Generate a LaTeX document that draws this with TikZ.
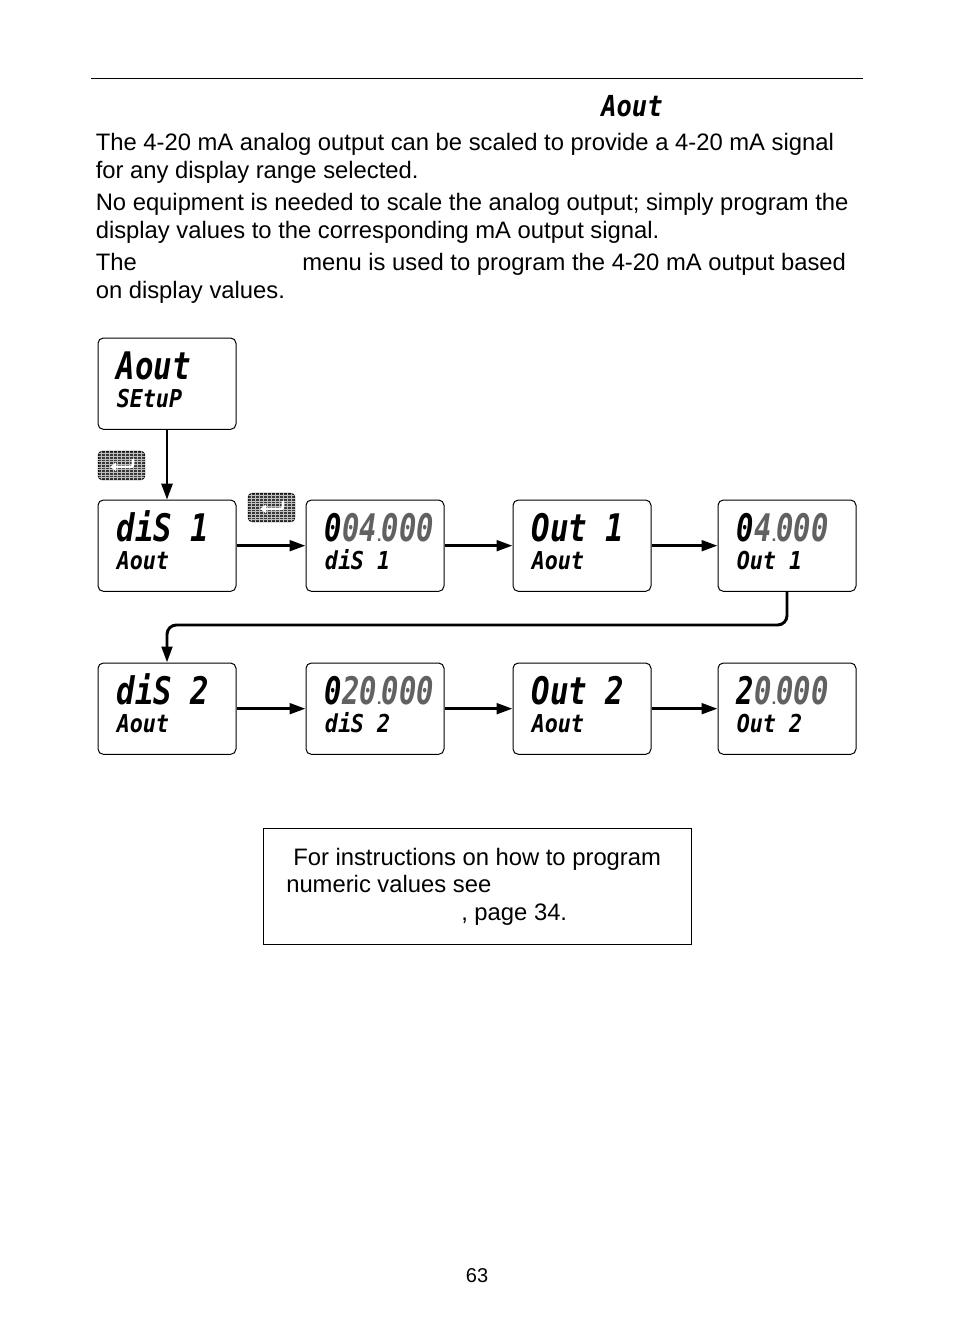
\documentclass[tikz,border=0pt]{standalone}
\usepackage{fontspec}
\usetikzlibrary{arrows.meta}
\setmainfont{Liberation Sans}
\newfontfamily\lcdbig[FakeStretch=0.81]{DejaVu Sans Mono}
\newfontfamily\lcdsmall[FakeStretch=0.88]{DejaVu Sans Mono}
\newfontfamily\lcdval[FakeStretch=0.76]{DejaVu Sans Mono}
\definecolor{lcdgray}{gray}{0.38}
\newcommand{\bodyfs}{\fontsize{17.85pt}{20pt}\selectfont}
\newcommand{\Bg}[1]{\fontsize{28.5pt}{30pt}\lcdbig\bfseries\itshape\selectfont #1}
\newcommand{\Sm}[1]{\fontsize{18.5pt}{20pt}\lcdsmall\bfseries\itshape\selectfont #1}
\newcommand{\Gy}[1]{\textcolor{lcdgray}{#1}}
\newcommand{\Dt}{{\rmfamily\upshape\bfseries\fontsize{13pt}{13pt}\selectfont .}}
\newcommand{\Di}{d\kern0.5pt i\kern-0.5pt S}
\tikzset{
  body/.style={anchor=base west,inner sep=0pt,font=\bodyfs,text=black},
  lcdbox/.style={draw=black,line width=0.75pt,rounded corners=4pt,fill=white,minimum width=103.5pt,minimum height=68.5pt,inner sep=0pt},
  lcdtxt/.style={anchor=base west,inner sep=0pt},
  flow/.style={draw=black,line width=2.2pt,-{Triangle[length=12pt,width=8pt]}},
  thinflow/.style={draw=black,line width=1.6pt,-{Triangle[length=12pt,width=8.5pt]}},
  keybody/.style={fill=black!78,draw=black,line width=0.5pt,rounded corners=3pt,minimum width=35pt,minimum height=21.5pt,inner sep=0pt},
}
\newcommand{\lcd}[5]{%
  \node[lcdbox,anchor=north west] (#1) at (#2,#3) {};
  \node[lcdtxt] (#1t) at ([xshift=14.25pt,yshift=-31.5pt]#1.north west) {\Bg{#4}};
  \node[lcdtxt] (#1b) at ([xshift=14.25pt,yshift=-52.8pt]#1.north west) {\Sm{#5}};
}
\newcommand{\enterkey}[3]{%
  \node[keybody] (#1) at (#2,#3) {};
  \begin{scope}[shift={(#1.center)}]
    \clip[rounded corners=3pt] (-17.5pt,-10.75pt) rectangle (17.5pt,10.75pt);
    \foreach \g in {-15,-12,...,16} \draw[black!25,line width=0.5pt] (\g pt,-11pt) -- (\g pt,11pt);
    \foreach \g in {-9,-7,...,10} \draw[black!25,line width=0.5pt] (-18pt,\g pt) -- (18pt,\g pt);
    \draw[white,line width=2pt,rounded corners=1.5pt,-{Triangle[length=4.5pt,width=6.5pt]}] (8.6pt,5pt) -- (8.6pt,-1pt) -- (-8.5pt,-1pt);
  \end{scope}
}
\begin{document}
\begin{tikzpicture}[x=0.75pt,y=-0.75pt]
\useasboundingbox[fill=white] (0,0) rectangle (954,1336);
\coordinate (ruleL) at (91,78.5); \coordinate (ruleR) at (863,78.5);
\draw[black,line width=0.75pt] (ruleL) -- (ruleR);
\node[lcdtxt] (title) at (601,116.5) {\fontsize{21.7pt}{23pt}\lcdsmall\bfseries\itshape\selectfont Aout};
\node[body] (l1) at (95.5,150.5) {The 4-20 mA analog output can be scaled to provide a 4-20 mA signal};
\node[body] (l2) at (95.5,178.5) {for any display range selected.};
\node[body] (l3) at (95.5,210.5) {No equipment is needed to scale the analog output; simply program the};
\node[body] (l4) at (95.5,238.5) {display values to the corresponding mA output signal.};
\node[body] (l5a) at (95.5,270.5) {The};
\node[body] (l5b) at (302,270.5) {menu is used to program the 4-20 mA output based};
\node[body] (l6) at (95.5,298.5) {on display values.};

\lcd{setup}{97.5}{337.5}{Aout}{SEtuP}
\lcd{dA}{97.5}{499.5}{\Di{} 1}{Aout}
\lcd{dAv}{305.5}{499.5}{\lcdval 0\Gy{04\Dt{}000}}{\Di{} 1}
\lcd{oA}{512.5}{499.5}{Out 1}{Aout}
\lcd{oAv}{717.5}{499.5}{\lcdval 0\Gy{4\Dt{}000}}{Out 1}
\lcd{dB}{97.5}{662.5}{\Di{} 2}{Aout}
\lcd{dBv}{305.5}{662.5}{\lcdval 0\Gy{20\Dt{}000}}{\Di{} 2}
\lcd{oB}{512.5}{662.5}{Out 2}{Aout}
\lcd{oBv}{717.5}{662.5}{\lcdval 2\Gy{0\Dt{}000}}{Out 2}

\enterkey{keyA}{121.5}{465.5}
\enterkey{keyB}{271.5}{507.5}

\coordinate (turn) at (477,625);
\draw[thinflow] (setup.south) -- (dA.north);
\draw[flow] (dA.east) -- (dAv.west);
\draw[flow] (dAv.east) -- (oA.west);
\draw[flow] (oA.east) -- (oAv.west);
\draw[flow,rounded corners=7pt] (oAv.south) -- (oAv.south |- turn) -- (dB.north |- turn) -- (dB.north);
\draw[flow] (dB.east) -- (dBv.west);
\draw[flow] (dBv.east) -- (oB.west);
\draw[flow] (oB.east) -- (oBv.west);

\node[draw=black,line width=0.6pt,minimum width=321pt,minimum height=87pt,inner sep=0pt,anchor=north west] (note) at (262.5,827.5) {};
\node[body] (n1) at (293,865.5) {For instructions on how to program};
\node[body] (n2) at (286,892.5) {numeric values see};
\node[body] (n3) at (461,920.5) {, page 34.};
\node[anchor=base,inner sep=0pt,font=\fontsize{15pt}{17pt}\selectfont] (page) at (477,1282) {63};
\end{tikzpicture}
\end{document}
